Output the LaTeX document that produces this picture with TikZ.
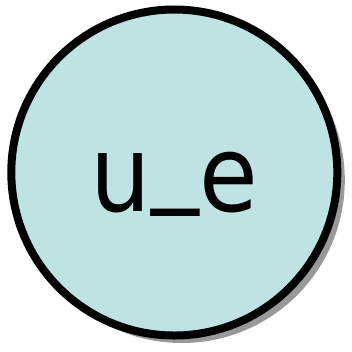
\documentclass[tikz,border=0pt]{standalone}
\usepackage{xcolor}
\usepackage{tikz}
\usepackage{fontspec}
\setmainfont{DejaVu Sans Condensed}
\usetikzlibrary{shadows}
\definecolor{nodeteal}{HTML}{BFE3E3}
\definecolor{shadowgray}{HTML}{999999}

\begin{document}
\begin{tikzpicture}[
    x=1pt, y=1pt,
    statenode/.style={circle, draw=black, line width=8pt, fill=nodeteal,
        minimum size=326pt, inner sep=0pt,
        text height=95pt, text depth=18pt,
        font=\fontsize{106}{110}\selectfont,
        drop shadow={shadow xshift=7.5pt, shadow yshift=-7.5pt, fill=shadowgray, opacity=1}},
]
    \useasboundingbox (0, 0) rectangle (352, -351);

    % the single variable node
    \node[statenode] (ue) at (174.3, -172.5) {u\raisebox{20pt}{\_}e};
\end{tikzpicture}
\end{document}
